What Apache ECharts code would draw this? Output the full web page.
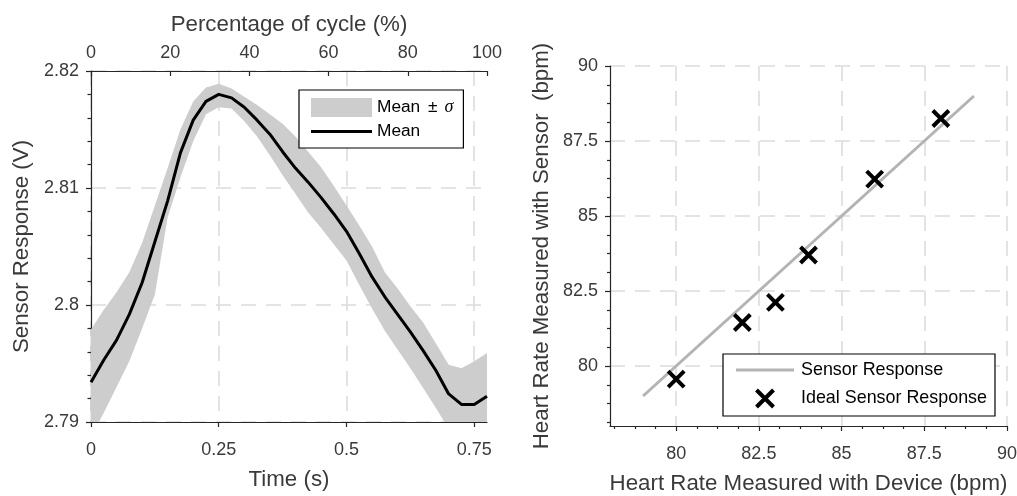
<!DOCTYPE html>
<html>
<head>
<meta charset="utf-8">
<script src="https://cdn.jsdelivr.net/npm/echarts@6/dist/echarts.min.js"></script>
<style>
html,body{margin:0;padding:0;background:#fff;}
#c{width:1017px;height:496px;}
</style>
</head>
<body>
<div id="c"></div>
<script>
// ---- Left panel data (time in s, sensor response in V) ----
const timeS = [0,0.025,0.05,0.075,0.1,0.125,0.15,0.175,0.2,0.225,0.25,0.275,0.3,0.325,0.35,0.375,0.4,0.425,0.45,0.475,0.5,0.525,0.55,0.575,0.6,0.625,0.65,0.675,0.7,0.725,0.75,0.775];
const meanV = [2.7934,2.7953,2.7970,2.7992,2.8019,2.8054,2.8089,2.8130,2.8158,2.8174,2.8180,2.8177,2.8169,2.8158,2.8146,2.8131,2.8117,2.8105,2.8092,2.8078,2.8063,2.8044,2.8024,2.8007,2.7992,2.7977,2.7961,2.7944,2.7924,2.7915,2.7915,2.7922];
const upperV = [2.7979,2.7996,2.8011,2.8028,2.8053,2.8085,2.8117,2.8150,2.8174,2.8186,2.8189,2.8185,2.8178,2.8171,2.8163,2.8155,2.8144,2.8131,2.8118,2.8102,2.8085,2.8068,2.8050,2.8028,2.8014,2.7999,2.7985,2.7967,2.7949,2.7946,2.7952,2.7959];
const lowerV = [2.7887,2.7908,2.7930,2.7952,2.7980,2.8009,2.8075,2.8109,2.8140,2.8163,2.8169,2.8168,2.8157,2.8144,2.8128,2.8111,2.8095,2.8079,2.8066,2.8052,2.8038,2.8017,2.7997,2.7978,2.7962,2.7946,2.7929,2.7912,2.7894,2.7880,2.7882,2.7888];
const timeTicks = [0,0.25,0.5,0.75];
const pctTicks = [0,20,40,60,80,100];

// ---- Right panel data (bpm) ----
const fitX = [79,89];
const fitY = [79,89];
const deviceHR = [80,82,83,84,86,88];
const sensorHR = [79.56,81.45,82.12,83.70,86.23,88.25];
const hrTicks = [80,82.5,85,87.5,90];
const hrMinorTicks = [78.125,78.75,79.375,80.625,81.25,81.875,83.125,83.75,84.375,85.625,86.25,86.875,88.125,88.75,89.375];

const FONT = 'Liberation Sans, Arial, Helvetica, sans-serif';
const AX = '#262626';
const TX = '#3a3a3a';
const GRID = '#dcdcdc';
const BAND = '#cdcdcd';
const TICK_FS = 18, NAME_FS = 22.3;

const pairs = (xs, ys) => xs.map((x, i) => [x, ys[i]]);

const chart = echarts.init(document.getElementById('c'), null, {renderer: 'canvas'});

const dashed = {show: true, lineStyle: {color: GRID, width: 1.6, type: [15, 10]}};
const lbl = (extra) => Object.assign({color: TX, fontSize: TICK_FS, fontFamily: FONT}, extra);
const nameStyle = {color: TX, fontSize: NAME_FS, fontFamily: FONT};

const option = {
  animation: false,
  backgroundColor: '#fff',
  textStyle: {fontFamily: FONT},
  grid: [
    {left: 91, top: 71, width: 396, height: 351, containLabel: false, outerBoundsMode: 'none'},
    {left: 610, top: 66, width: 397, height: 360, containLabel: false, outerBoundsMode: 'none'}
  ],
  xAxis: [
    {
      gridIndex: 0, type: 'value', position: 'bottom', min: 0, max: 0.775,
      axisLine: {show: true, onZero: false, lineStyle: {color: AX, width: 1.2}},
      axisTick: {show: true, customValues: timeTicks, length: 5, lineStyle: {color: AX, width: 1.2}},
      axisLabel: lbl({customValues: timeTicks, margin: 19}),
      splitLine: dashed,
      name: 'Time (s)', nameLocation: 'middle', nameGap: 47, nameTextStyle: nameStyle
    },
    {
      gridIndex: 0, type: 'value', position: 'top', min: 0, max: 100,
      axisLine: {show: true, onZero: false, lineStyle: {color: AX, width: 1.2}},
      axisTick: {show: true, inside: true, customValues: pctTicks, length: 5, lineStyle: {color: AX, width: 1.2}},
      axisLabel: lbl({customValues: pctTicks, margin: 9}),
      splitLine: {show: false},
      name: 'Percentage of cycle (%)', nameLocation: 'middle', nameGap: 35, nameTextStyle: nameStyle
    },
    {
      gridIndex: 1, type: 'value', position: 'bottom', min: 78, max: 90,
      axisLine: {show: true, onZero: false, lineStyle: {color: AX, width: 1.2}},
      axisTick: {show: true, customValues: hrTicks, length: 5, lineStyle: {color: AX, width: 1.2}},
      axisLabel: lbl({customValues: hrTicks, margin: 19}),
      splitLine: dashed,
      name: 'Heart Rate Measured with Device (bpm)', nameLocation: 'middle', nameGap: 47, nameTextStyle: nameStyle
    },
    {
      gridIndex: 1, type: 'value', position: 'bottom', min: 78, max: 90,
      axisLine: {show: false},
      axisTick: {show: true, customValues: hrMinorTicks, length: 3, lineStyle: {color: AX, width: 1.2}},
      axisLabel: {show: false},
      splitLine: {show: false}
    }
  ],
  yAxis: [
    {
      gridIndex: 0, type: 'value', position: 'left', min: 2.79, max: 2.82, interval: 0.01,
      axisLine: {show: true, onZero: false, lineStyle: {color: AX, width: 1.2}},
      axisTick: {show: true, length: 5, lineStyle: {color: AX, width: 1.2}},
      minorTick: {show: true, splitNumber: 5, length: 3.5, lineStyle: {color: AX, width: 1.2}},
      axisLabel: lbl({margin: 12, formatter: v => String(Math.round(v * 1000) / 1000)}),
      splitLine: dashed,
      name: 'Sensor Response (V)', nameLocation: 'middle', nameGap: 58, nameTextStyle: nameStyle
    },
    {
      gridIndex: 1, type: 'value', position: 'left', min: 78, max: 90,
      axisLine: {show: true, onZero: false, lineStyle: {color: AX, width: 1.2}},
      axisTick: {show: true, customValues: hrTicks, length: 5, lineStyle: {color: AX, width: 1.2}},
      axisLabel: lbl({customValues: hrTicks, margin: 12}),
      splitLine: dashed,
      name: 'Heart Rate Measured with Sensor  (bpm)', nameLocation: 'middle', nameGap: 57, nameTextStyle: nameStyle
    },
    {
      gridIndex: 1, type: 'value', position: 'left', min: 78, max: 90,
      axisLine: {show: false},
      axisTick: {show: true, customValues: hrMinorTicks, length: 3, lineStyle: {color: AX, width: 1.2}},
      axisLabel: {show: false},
      splitLine: {show: false}
    }
  ],
  legend: [
    {
      data: [{name: 'Mean ± σ', icon: 'rect'}, {name: 'Mean', icon: 'path://M0,0H60V3H0Z'}],
      orient: 'vertical', left: 299, top: 90,
      itemWidth: 61, itemHeight: 19, itemGap: 6,
      padding: [8, 10, 8, 12],
      borderColor: '#000', borderWidth: 1.2, backgroundColor: '#fff',
      selectedMode: false, symbolKeepAspect: true,
      textStyle: {color: '#000', fontSize: 17.3, fontFamily: FONT, width: 83,
        rich: {a: {color: '#000', fontSize: 17.3, fontFamily: FONT},
               p: {color: '#000', fontSize: 17.3, fontFamily: FONT, padding: [0, 7, 0, 3]},
               s: {color: '#000', fontSize: 18, fontFamily: 'Liberation Serif', fontStyle: 'italic'}}},
      formatter: n => n === 'Mean ± σ' ? '{a|Mean }{p|±}{s|σ}' : n
    },
    {
      data: [{name: 'Sensor Response', icon: 'path://M0,0H58V3H0Z'},
             {name: 'Ideal Sensor Response', itemStyle: {color: 'rgba(0,0,0,0)', borderColor: '#000', borderWidth: 4, opacity: 1}}],
      orient: 'vertical', left: 723, top: 354,
      itemWidth: 58, itemHeight: 17, itemGap: 9,
      padding: [7, 8, 7, 13],
      borderColor: '#000', borderWidth: 1.2, backgroundColor: '#fff',
      selectedMode: false, symbolKeepAspect: true,
      textStyle: {color: '#000', fontSize: 17.9, fontFamily: FONT, padding: [0, 0, 0, 2]}
    }
  ],
  series: [
    {
      name: 'Mean ± σ', type: 'custom', xAxisIndex: 0, yAxisIndex: 0,
      data: [[timeS[0], meanV[0]]], silent: true, z: 1,
      itemStyle: {color: BAND},
      renderItem: (params, api) => {
        const pts = [];
        for (let i = 0; i < timeS.length; i++) pts.push(api.coord([timeS[i], upperV[i]]));
        for (let i = timeS.length - 1; i >= 0; i--) pts.push(api.coord([timeS[i], lowerV[i]]));
        const cs = params.coordSys;
        return {
          type: 'polygon',
          shape: {points: pts},
          style: {fill: BAND, stroke: null},
          clipPath: {type: 'rect', shape: {x: cs.x, y: cs.y, width: cs.width, height: cs.height}}
        };
      }
    },
    {
      name: 'Mean', type: 'line', xAxisIndex: 0, yAxisIndex: 0,
      data: pairs(timeS, meanV), symbol: 'none', silent: true,
      itemStyle: {color: '#000'},
      lineStyle: {color: '#000', width: 3}, z: 3
    },
    {
      name: 'Sensor Response', type: 'line', xAxisIndex: 2, yAxisIndex: 1,
      data: pairs(fitX, fitY), symbol: 'none', silent: true,
      itemStyle: {color: '#b3b3b3'},
      lineStyle: {color: '#b3b3b3', width: 3}, z: 2
    },
    {
      name: 'Ideal Sensor Response', type: 'scatter', xAxisIndex: 2, yAxisIndex: 1,
      data: pairs(deviceHR, sensorHR),
      symbol: 'path://M0,0L10,10M10,0L0,10', symbolSize: 16, symbolKeepAspect: true,
      itemStyle: {color: 'rgba(0,0,0,0)', borderColor: '#000', borderWidth: 4, opacity: 1}, z: 3, silent: true
    }
  ]
};
chart.setOption(option);
</script>
</body>
</html>
